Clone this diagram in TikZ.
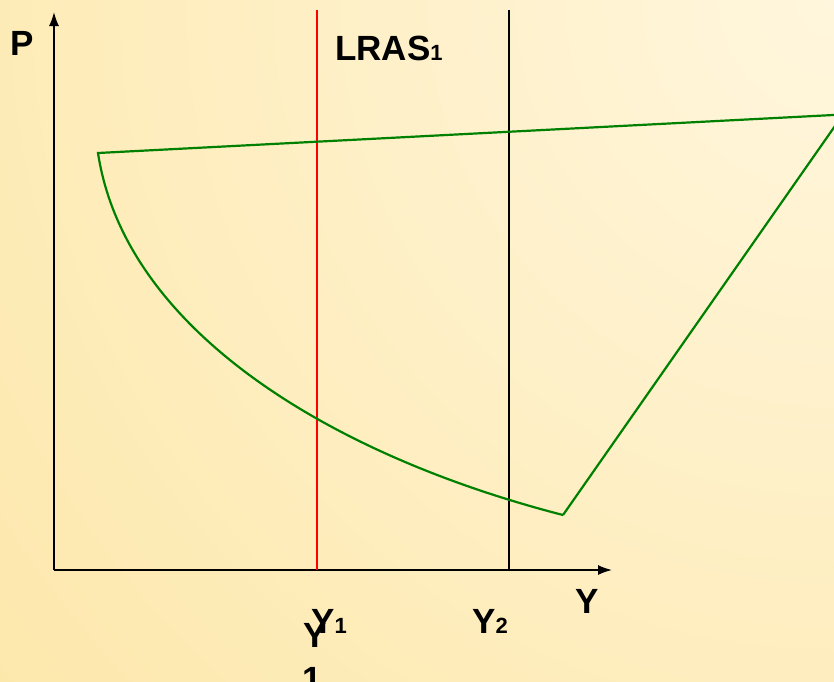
\documentclass[tikz,border=0pt]{standalone}
\usepackage{fontspec}
\setmainfont{Liberation Sans}
\usetikzlibrary{arrows.meta}
\definecolor{bgA}{RGB}{255,246,221}
\definecolor{bgB}{RGB}{253,232,172}
\definecolor{bgC}{RGB}{252,226,152}
\definecolor{bgD}{RGB}{250,220,145}
\definecolor{bgE}{RGB}{250,214,126}
\definecolor{curvegreen}{RGB}{0,128,0}
\pgfdeclareradialshading{bgrad}{\pgfpoint{0bp}{0bp}}{color(0bp)=(bgA); color(24.5bp)=(bgB); color(31bp)=(bgC); color(38bp)=(bgD); color(49bp)=(bgE); color(50bp)=(bgE)}
\tikzset{
  lbl/.style={font=\fontsize{35}{40}\selectfont\bfseries, inner sep=0pt, anchor=base west},
  axisline/.style={line width=1.6pt, -{Latex[length=14pt,width=10pt]}},
  lras/.style={line width=1.5pt},
  econ/.style={line width=2.2pt, curvegreen, line join=miter}
}
\newcommand{\subdig}[1]{{\fontsize{22}{22}\selectfont #1}}
\begin{document}
\begin{tikzpicture}[x=1pt,y=-1pt]
\useasboundingbox (0,0) rectangle (834,681);
\clip (0,0) rectangle (834,681);
\shade[shading=bgrad] (834,0) circle (1100);
% coordinates
\coordinate (O) at (54,570);
\coordinate (Ptip) at (54,12);
\coordinate (Ytip) at (612,570);
\coordinate (R1t) at (317,10);
\coordinate (R1b) at (317,570);
\coordinate (R2t) at (509,10);
\coordinate (R2b) at (509,570);
\coordinate (A) at (98,153);
\coordinate (C) at (563,515);
\coordinate (D) at (843,114.5);
% axes
\draw[axisline] (O) -- (Ptip);
\draw[axisline] (O) -- (Ytip);
% vertical lines
\draw[lras, red] (R1t) -- (R1b);
\draw[lras, black] (R2t) -- (R2b);
% green figure
\draw[econ] (C) -- (D) -- (A) .. controls (125,330) and (330,455) .. (C);
% labels
\node[lbl] (plbl) at (10,55) {P};
\node[lbl] (lraslbl) at (335,60) {LRAS\subdig{1}};
\node[lbl] (ylbl) at (575,613) {Y};
\node[lbl] (y2lbl) at (472,633) {Y\subdig{2}};
\node[lbl] (y1lbl) at (311,633) {Y\subdig{1}};
\node[lbl] (y1blbl) at (303,647) {Y};
\node[lbl] (onelbl) at (302,691) {1};
\end{tikzpicture}
\end{document}
